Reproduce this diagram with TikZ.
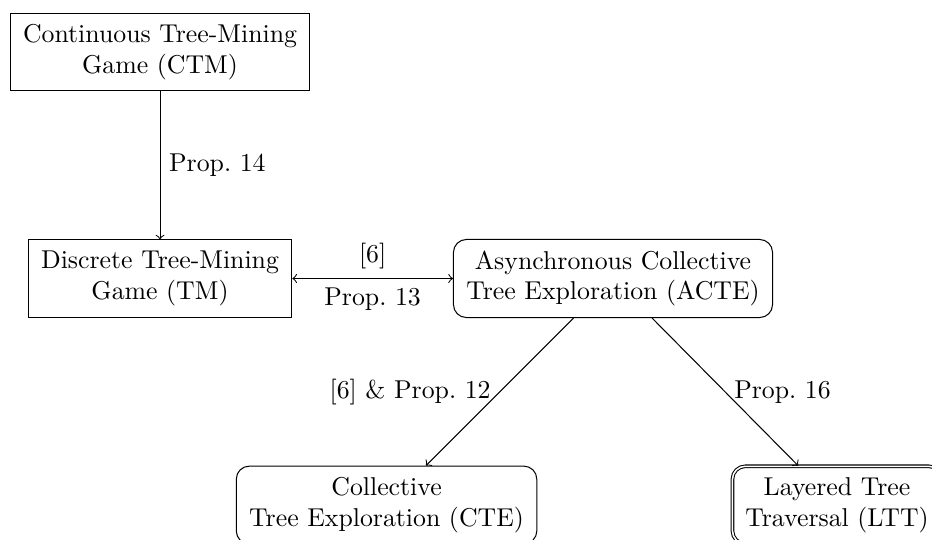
\documentclass[tikz,border=0pt]{standalone}
\usepackage{amsmath,amssymb}
\usepackage{tikz}
\usetikzlibrary{arrows,positioning,shapes.geometric}

\begin{document}
\begin{tikzpicture}[
	game/.style={draw, align=center, inner xsep=5pt, inner ysep=4.3pt},
	expl/.style={game, rounded corners=5pt},
	arr/.style={->}
]
	\useasboundingbox (0,0) rectangle (12.697,-7.343);

	% Tree-mining games
	\node[game] (ctm) at (2.180, -0.708)
		{Continuous Tree-Mining\\ Game (CTM)};
	\node[game] (tm) at (2.180, -3.794)
		{Discrete Tree-Mining\\ Game (TM)};

	\draw[arr] (ctm) -- node[right] {Prop.~14} (tm);

	% Asynchronous exploration
	\node[expl] (acte) at (8.351, -3.794)
		{Asynchronous Collective\\ Tree Exploration (ACTE)};

	\draw[arr, <->] (tm) -- node[above] {[6]} node[below] {Prop.~13} (acte);

	% Reductions
	\node[expl] (cte) at (5.266, -6.880)
		{Collective\\ Tree Exploration (CTE)};
	\node[expl, double] (ltt) at (11.403, -6.880)
		{Layered Tree\\ Traversal (LTT)};

	\draw[arr] (acte) -- node[left] {[6] \& Prop.~12} (cte);
	\draw[arr] (acte) -- node[right] {Prop.~16} (ltt);
\end{tikzpicture}
\end{document}
